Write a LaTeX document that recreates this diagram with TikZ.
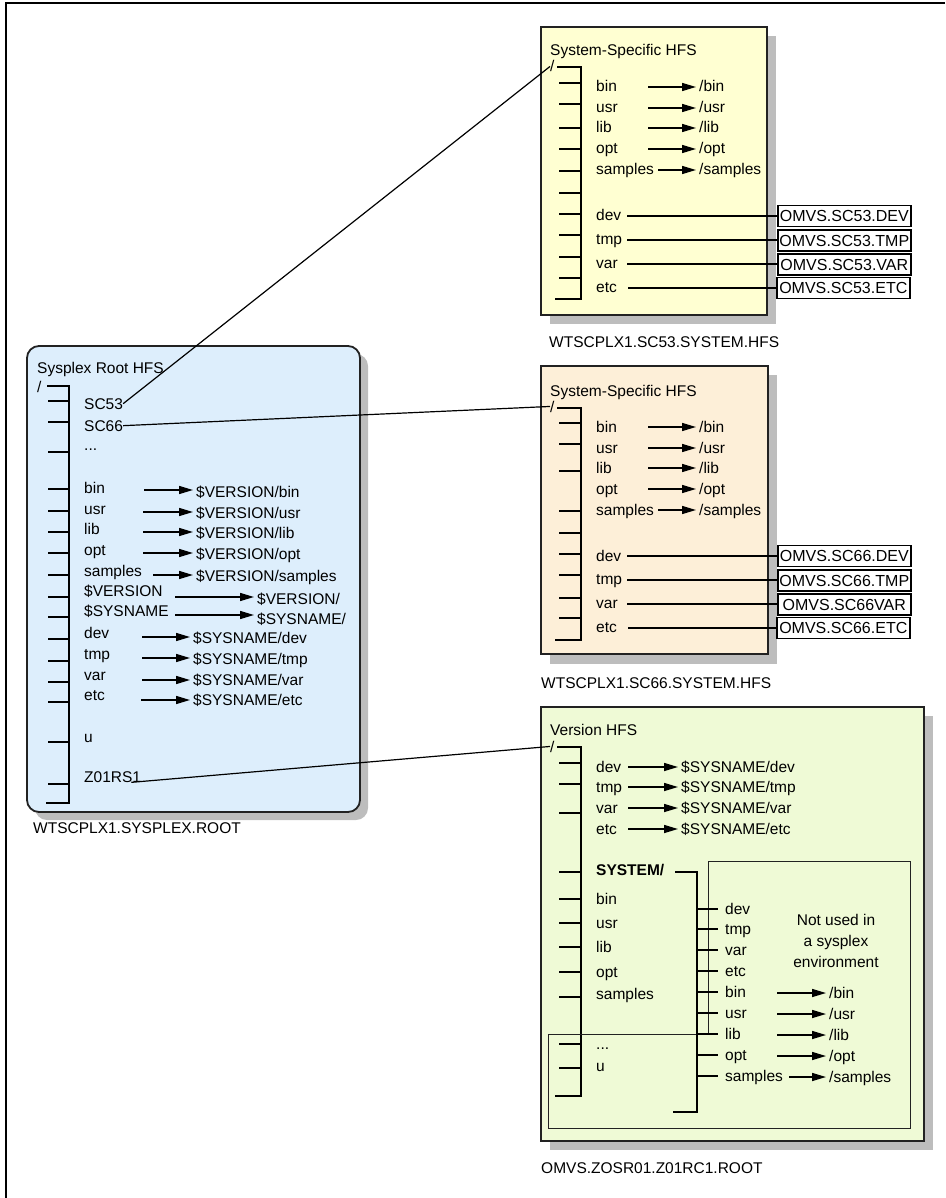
\documentclass[tikz,border=0pt]{standalone}
\usepackage{fontspec}
\setmainfont{Liberation Sans}
\usepackage{xcolor}
\definecolor{sysyellow}{HTML}{FFFFD2}
\definecolor{syspeach}{HTML}{FDEFD8}
\definecolor{vergreen}{HTML}{EFFAD6}
\definecolor{rootblue}{HTML}{DDEEFC}
\definecolor{shadowgray}{HTML}{BDBDBD}
\definecolor{edgegray}{HTML}{222222}
\usepackage{tikz}
\usetikzlibrary{arrows.meta}

\tikzset{
  lbl/.style={anchor=base west, inner sep=0pt, font=\fontsize{15.5}{18}\selectfont},
  tree/.style={line width=1.5pt},
  arr/.style={line width=1.5pt, -{Triangle[length=14pt,width=8pt]}, shorten >=3pt},
  link/.style={line width=1.2pt},
  hfsbox/.style={draw=edgegray, line width=1.8pt},
  dsn/.style={draw, line width=1.6pt, fill=white, anchor=west, minimum width=133pt,
    minimum height=21pt, inner sep=1pt, font=\fontsize{16}{18}\selectfont},
}

\begin{document}
\begin{tikzpicture}[x=1pt, y=-1pt]
  \useasboundingbox (0,0) rectangle (945,1198);
  \draw[line width=1.5pt] (945,3) -- (6,3) -- (6,1198);

  % Sysplex root HFS
  \fill[shadowgray, rounded corners=12pt] (35,354) rectangle (368,820);
  \draw[hfsbox, fill=rootblue, rounded corners=12pt] (27,346) rectangle (360,812);
  \node[lbl] (roottitle) at (37,373) {Sysplex Root HFS};
  \node[lbl] (rootslash) at (37,392) {/};
  \draw[tree] (47,386) -- (69,386) -- (69,803) -- (46,803);
  \foreach \y in {401,422,452,489,511,532,553,575,597,617,639,661,682,702,742,784}
    \draw[tree] (48,\y) -- (69,\y);
  \node[lbl] (sc53) at (84,409) {SC53};
  \node[lbl] (sc66) at (84,431) {SC66};
  \node[lbl] (rdots) at (84,450) {...};
  \node[lbl] (rbin) at (84,493) {bin};
  \node[lbl] (rusr) at (84,514) {usr};
  \node[lbl] (rlib) at (84,534) {lib};
  \node[lbl] (ropt) at (84,555) {opt};
  \node[lbl] (rsamples) at (84,576) {samples};
  \node[lbl] (rver) at (84,596) {\$VERSION};
  \node[lbl] (rsys) at (84,616) {\$SYSNAME};
  \node[lbl] (rdev) at (84,638) {dev};
  \node[lbl] (rtmp) at (84,659) {tmp};
  \node[lbl] (rvar) at (84,680) {var};
  \node[lbl] (retc) at (84,700) {etc};
  \node[lbl] (ru) at (84,742) {u};
  \node[lbl] (z01) at (84,782) {Z01RS1};

  \node[lbl] (tbin) at (196,497) {\$VERSION/bin};
  \node[lbl] (tusr) at (196,518) {\$VERSION/usr};
  \node[lbl] (tlib) at (196,538) {\$VERSION/lib};
  \node[lbl] (topt) at (196,559) {\$VERSION/opt};
  \node[lbl] (tsamples) at (196,581) {\$VERSION/samples};
  \node[lbl] (tver) at (257,604) {\$VERSION/};
  \node[lbl] (tsys) at (257,624) {\$SYSNAME/};
  \node[lbl] (tdev) at (193,643) {\$SYSNAME/dev};
  \node[lbl] (ttmp) at (193,664) {\$SYSNAME/tmp};
  \node[lbl] (tvar) at (193,685) {\$SYSNAME/var};
  \node[lbl] (tetc) at (193,705) {\$SYSNAME/etc};

  \coordinate (abin) at (144,490);
  \coordinate (ausr) at (143,512);
  \coordinate (alib) at (143,532);
  \coordinate (aopt) at (143,553);
  \coordinate (asamples) at (153,575);
  \coordinate (aver) at (175,597);
  \coordinate (asys) at (175,615);
  \coordinate (adev) at (142,637);
  \coordinate (atmp) at (142,658);
  \coordinate (avar) at (142,680);
  \coordinate (aetc) at (141,700);
  \draw[arr] (abin) -- (abin -| tbin.west);
  \draw[arr] (ausr) -- (ausr -| tusr.west);
  \draw[arr] (alib) -- (alib -| tlib.west);
  \draw[arr] (aopt) -- (aopt -| topt.west);
  \draw[arr] (asamples) -- (asamples -| tsamples.west);
  \draw[arr] (aver) -- (aver -| tver.west);
  \draw[arr] (asys) -- (asys -| tsys.west);
  \draw[arr] (adev) -- (adev -| tdev.west);
  \draw[arr] (atmp) -- (atmp -| ttmp.west);
  \draw[arr] (avar) -- (avar -| tvar.west);
  \draw[arr] (aetc) -- (aetc -| tetc.west);
  \node[lbl] (rootcap) at (33,833) {WTSCPLX1.SYSPLEX.ROOT};

  % System-specific HFS for SC53
  \fill[shadowgray] (550,36) rectangle (776,324);
  \draw[hfsbox, fill=sysyellow] (541,27) rectangle (767,315);
  \node[lbl] (atitle) at (550,56) {System-Specific HFS};
  \node[lbl] (aslash) at (550,72) {/};
  \draw[tree] (557,67) -- (581,67) -- (581,299) -- (555,299);
  \foreach \y in {83,104,128,149,171,193,214,235,257,278}
    \draw[tree] (559,\y) -- (581,\y);
  \node[lbl] (abinx) at (596,92) {bin};
  \node[lbl] (ausrx) at (596,113) {usr};
  \node[lbl] (alibx) at (596,133) {lib};
  \node[lbl] (aoptx) at (596,154) {opt};
  \node[lbl] (asamplesx) at (596,175) {samples};
  \node[lbl] (adevx) at (596,221) {dev};
  \node[lbl] (atmpx) at (596,244) {tmp};
  \node[lbl] (avarx) at (596,268) {var};
  \node[lbl] (aetcx) at (596,292) {etc};
  \node[lbl] (abint) at (699,92) {/bin};
  \node[lbl] (ausrt) at (699,113) {/usr};
  \node[lbl] (alibt) at (699,133) {/lib};
  \node[lbl] (aoptt) at (699,154) {/opt};
  \node[lbl] (asamplest) at (699,175) {/samples};
  \coordinate (abina) at (648,87);
  \coordinate (ausra) at (648,108);
  \coordinate (aliba) at (648,128);
  \coordinate (aopta) at (648,149);
  \coordinate (asamplesa) at (658,170);
  \draw[arr] (abina) -- (abina -| abint.west);
  \draw[arr] (ausra) -- (ausra -| ausrt.west);
  \draw[arr] (aliba) -- (aliba -| alibt.west);
  \draw[arr] (aopta) -- (aopta -| aoptt.west);
  \draw[arr] (asamplesa) -- (asamplesa -| asamplest.west);
  \node[dsn] (adsndev) at (777,216) {OMVS.SC53.DEV};
  \node[dsn] (adsntmp) at (777,240.5) {OMVS.SC53.TMP};
  \node[dsn] (adsnvar) at (777,264.5) {OMVS.SC53.VAR};
  \node[dsn] (adsnetc) at (776,288) {OMVS.SC53.ETC};
  \coordinate (adevl) at (627,216);
  \coordinate (atmpl) at (627,240);
  \coordinate (avarl) at (627,264);
  \coordinate (aetcl) at (628,288);
  \draw[link] (adevl) -- (adevl -| adsndev.west);
  \draw[link] (atmpl) -- (atmpl -| adsntmp.west);
  \draw[link] (avarl) -- (avarl -| adsnvar.west);
  \draw[link] (aetcl) -- (aetcl -| adsnetc.west);
  \node[lbl] (acap) at (549,347) {WTSCPLX1.SC53.SYSTEM.HFS};

  % System-specific HFS for SC66
  \fill[shadowgray] (550,375) rectangle (777,664);
  \draw[hfsbox, fill=syspeach] (541,366) rectangle (768,654);
  \node[lbl] (btitle) at (550,396) {System-Specific HFS};
  \node[lbl] (bslash) at (550,412) {/};
  \draw[tree] (557,408) -- (581,408) -- (581,640) -- (555,640);
  \foreach \y in {423,444,471,511,533,554,575,598,618}
    \draw[tree] (559,\y) -- (581,\y);
  \node[lbl] (bbinx) at (596,432) {bin};
  \node[lbl] (busrx) at (596,453) {usr};
  \node[lbl] (blibx) at (596,473) {lib};
  \node[lbl] (boptx) at (596,494) {opt};
  \node[lbl] (bsamplesx) at (596,515) {samples};
  \node[lbl] (bdevx) at (596,561) {dev};
  \node[lbl] (btmpx) at (596,584) {tmp};
  \node[lbl] (bvarx) at (596,608) {var};
  \node[lbl] (betcx) at (596,632) {etc};
  \node[lbl] (bbint) at (699,432) {/bin};
  \node[lbl] (busrt) at (699,453) {/usr};
  \node[lbl] (blibt) at (699,473) {/lib};
  \node[lbl] (boptt) at (699,494) {/opt};
  \node[lbl] (bsamplest) at (699,515) {/samples};
  \coordinate (bbina) at (648,427);
  \coordinate (busra) at (648,448);
  \coordinate (bliba) at (648,468);
  \coordinate (bopta) at (648,489);
  \coordinate (bsamplesa) at (658,510);
  \draw[arr] (bbina) -- (bbina -| bbint.west);
  \draw[arr] (busra) -- (busra -| busrt.west);
  \draw[arr] (bliba) -- (bliba -| blibt.west);
  \draw[arr] (bopta) -- (bopta -| boptt.west);
  \draw[arr] (bsamplesa) -- (bsamplesa -| bsamplest.west);
  \node[dsn] (bdsndev) at (777,556) {OMVS.SC66.DEV};
  \node[dsn] (bdsntmp) at (777,580.5) {OMVS.SC66.TMP};
  \node[dsn] (bdsnvar) at (777,604.5) {OMVS.SC66VAR};
  \node[dsn] (bdsnetc) at (776,628) {OMVS.SC66.ETC};
  \coordinate (bdevl) at (627,556);
  \coordinate (btmpl) at (627,580);
  \coordinate (bvarl) at (627,604);
  \coordinate (betcl) at (628,628);
  \draw[link] (bdevl) -- (bdevl -| bdsndev.west);
  \draw[link] (btmpl) -- (btmpl -| bdsntmp.west);
  \draw[link] (bvarl) -- (bvarl -| bdsnvar.west);
  \draw[link] (betcl) -- (betcl -| bdsnetc.west);
  \node[lbl] (bcap) at (541,688) {WTSCPLX1.SC66.SYSTEM.HFS};

  % Version HFS
  \fill[shadowgray] (550,716) rectangle (933,1150);
  \draw[hfsbox, fill=vergreen] (541,707) rectangle (924,1141);
  \node[lbl] (vtitle) at (550,735) {Version HFS};
  \node[lbl] (vslash) at (550,752) {/};
  \draw[tree] (557,747) -- (581,747) -- (581,1096) -- (555,1096);
  \foreach \y in {763,784,813,872,899,923,947,972,997,1044,1068}
    \draw[tree] (559,\y) -- (581,\y);
  \node[lbl] (vdevx) at (596,772) {dev};
  \node[lbl] (vtmpx) at (596,792) {tmp};
  \node[lbl] (vvarx) at (596,813) {var};
  \node[lbl] (vetcx) at (596,834) {etc};
  \node[lbl, font=\fontsize{15.5}{18}\selectfont\bfseries] (vsys) at (596,875) {SYSTEM/};
  \node[lbl] (vbinx) at (596,904) {bin};
  \node[lbl] (vusrx) at (596,928) {usr};
  \node[lbl] (vlibx) at (596,952) {lib};
  \node[lbl] (voptx) at (596,977) {opt};
  \node[lbl] (vsamplesx) at (596,999) {samples};
  \node[lbl] (vdots) at (596,1049) {...};
  \node[lbl] (vu) at (596,1071) {u};
  \node[lbl] (vdevt) at (681,772) {\$SYSNAME/dev};
  \node[lbl] (vtmpt) at (681,792) {\$SYSNAME/tmp};
  \node[lbl] (vvart) at (681,813) {\$SYSNAME/var};
  \node[lbl] (vetct) at (681,834) {\$SYSNAME/etc};
  \coordinate (vdeva) at (628,767);
  \coordinate (vtmpa) at (628,787);
  \coordinate (vvara) at (628,808);
  \coordinate (vetca) at (628,829);
  \draw[arr] (vdeva) -- (vdeva -| vdevt.west);
  \draw[arr] (vtmpa) -- (vtmpa -| vtmpt.west);
  \draw[arr] (vvara) -- (vvara -| vvart.west);
  \draw[arr] (vetca) -- (vetca -| vetct.west);

  % SYSTEM/ subtree, not used in a sysplex
  \draw[line width=1pt, draw=edgegray] (708,861) -- (910,861) -- (910,1128) -- (548,1128)
    -- (548,1034) -- (708,1034) -- cycle;
  \draw[tree] (675,872) -- (697,872) -- (697,1112) -- (673,1112);
  \foreach \y in {909,929,950,971,992,1013,1034,1055,1076}
    \draw[tree] (697,\y) -- (718,\y);
  \node[lbl] (sdevx) at (725,914) {dev};
  \node[lbl] (stmpx) at (725,934) {tmp};
  \node[lbl] (svarx) at (725,955) {var};
  \node[lbl] (setcx) at (725,976) {etc};
  \node[lbl] (sbinx) at (725,997) {bin};
  \node[lbl] (susrx) at (725,1018) {usr};
  \node[lbl] (slibx) at (725,1039) {lib};
  \node[lbl] (soptx) at (725,1060) {opt};
  \node[lbl] (ssamplesx) at (725,1081) {samples};
  \node[lbl] (sbint) at (829,998) {/bin};
  \node[lbl] (susrt) at (829,1019) {/usr};
  \node[lbl] (slibt) at (829,1040) {/lib};
  \node[lbl] (soptt) at (829,1061) {/opt};
  \node[lbl] (ssamplest) at (829,1082) {/samples};
  \coordinate (sbina) at (777,993);
  \coordinate (susra) at (777,1014);
  \coordinate (sliba) at (777,1035);
  \coordinate (sopta) at (777,1056);
  \coordinate (ssamplesa) at (789,1077);
  \draw[arr] (sbina) -- (sbina -| sbint.west);
  \draw[arr] (susra) -- (susra -| susrt.west);
  \draw[arr] (sliba) -- (sliba -| slibt.west);
  \draw[arr] (sopta) -- (sopta -| soptt.west);
  \draw[arr] (ssamplesa) -- (ssamplesa -| ssamplest.west);
  \node[align=center, inner sep=0pt, font=\fontsize{15.5}{21}\selectfont] (notused)
    at (836,941) {Not used in\\a sysplex\\environment};
  \node[lbl] (vcap) at (541,1173) {OMVS.ZOSR01.Z01RC1.ROOT};

  % mount points
  \draw[link] (sc53.east) -- (aslash.west);
  \draw[link] (sc66.east) -- (bslash.west);
  \draw[link] ([xshift=-10pt]z01.south east) -- (vslash.west);
\end{tikzpicture}
\end{document}
